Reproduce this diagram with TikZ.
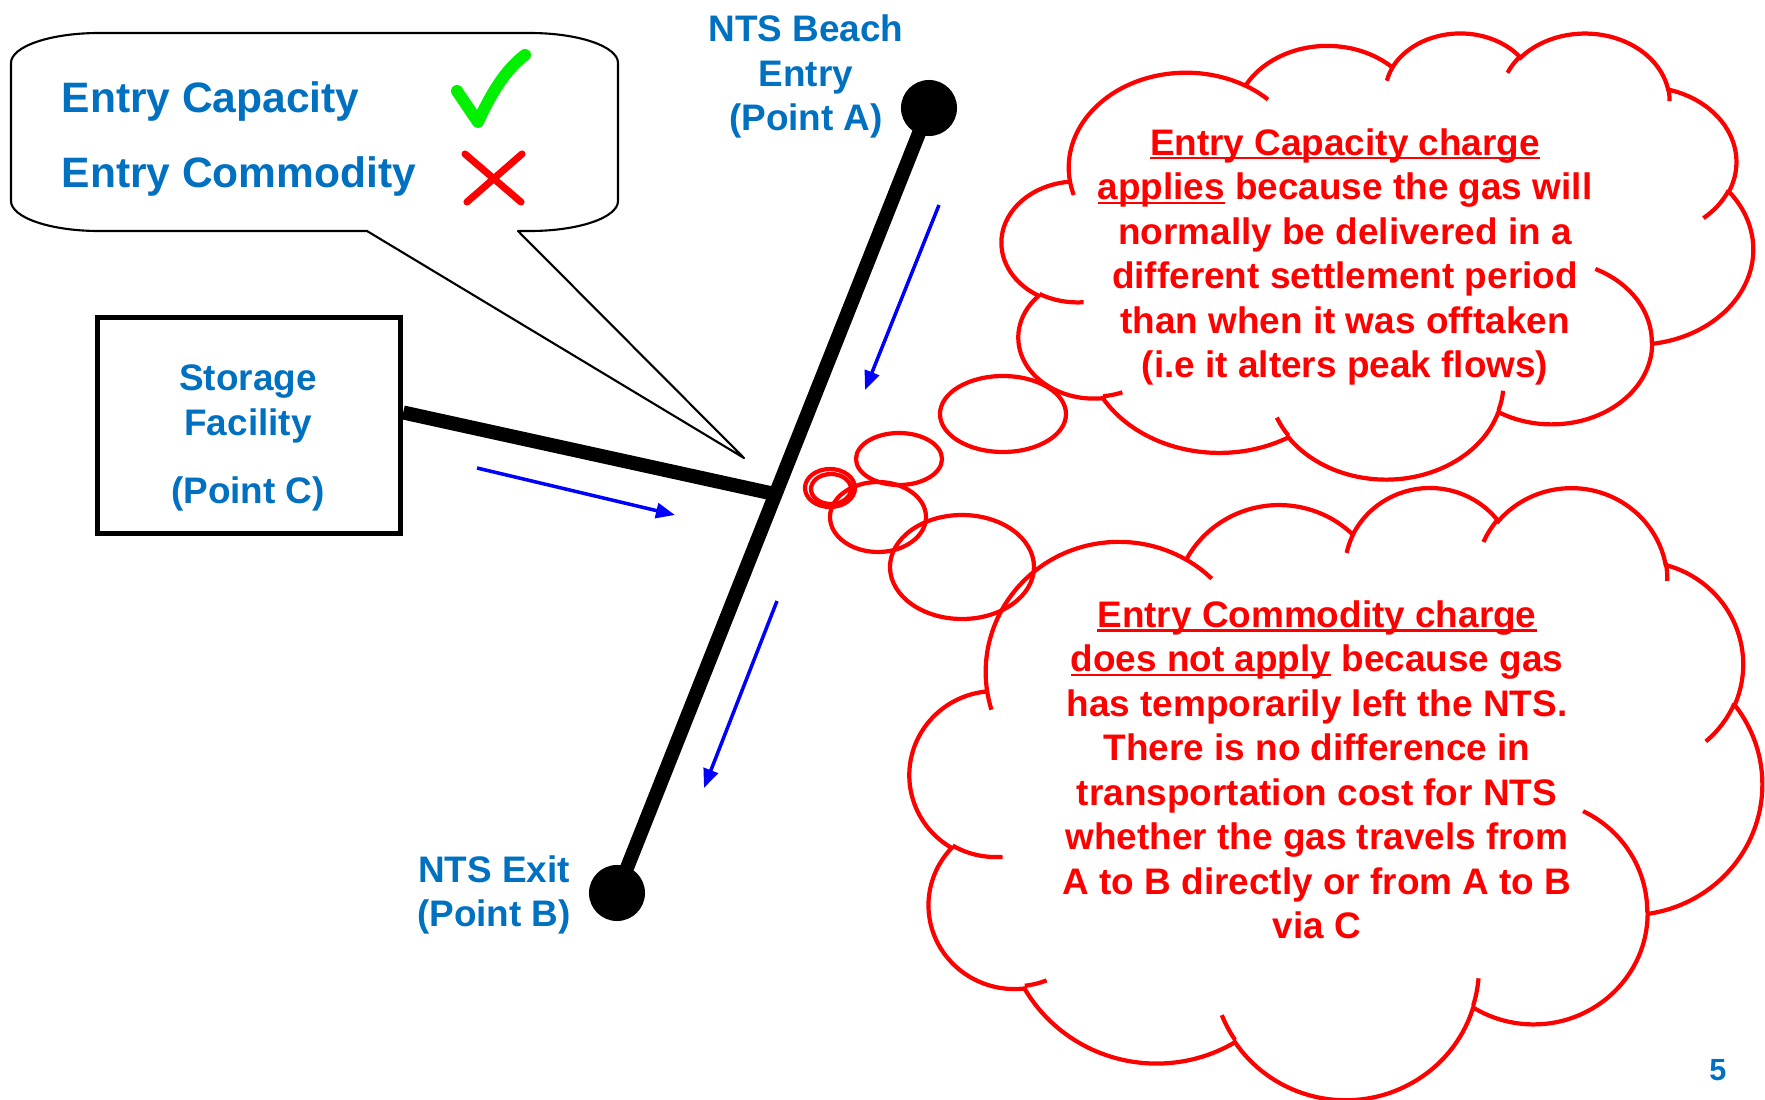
\documentclass[tikz,border=0pt]{standalone}
\usepackage{fontspec}
\setmainfont{Liberation Sans}
\usetikzlibrary{positioning,arrows.meta,calc}
\definecolor{ptblue}{RGB}{0,112,192}
\definecolor{tickgreen}{RGB}{0,240,0}
\newsavebox\ulbox
\newcommand{\ulx}[1]{\sbox\ulbox{#1}\rlap{\rule[-0.4mm]{\wd\ulbox}{0.6pt}}\usebox\ulbox}
% one bump of the cloud outline (radii, start and sweep angle)
\newcommand{\cloudarc}[4]{arc[x radius=#1,y radius=#2,
  start angle={atan2(#1*sin(#3),#2*cos(#3))},
  delta angle={mod(atan2(#1*sin(#3+#4),#2*cos(#3+#4))-atan2(#1*sin(#3),#2*cos(#3))+720,360)}]}
\newcommand{\cloudshape}{%
  (3.9,14.37) \cloudarc{6.753}{9.19}{-190.4875}{123.7805}
  \cloudarc{5.333}{7.267}{-144.1024}{89.9452}
  \cloudarc{4.365}{5.945}{-145.8079}{99.723}
  \cloudarc{4.857}{6.595}{-130.9861}{117.2417}
  \cloudarc{5.333}{7.273}{-78.7089}{109.0269}
  \cloudarc{6.775}{9.22}{-46.2673}{130.269}
  \cloudarc{5.785}{7.867}{0.625}{114.0333}
  \cloudarc{6.752}{9.215}{22.4516}{115.1726}
  \cloudarc{7.72}{10.543}{66.2426}{75.711}
  \cloudarc{4.36}{5.918}{-274.9421}{146.7356}
  \cloudarc{4.345}{5.945}{-246.8285}{152.5189} -- cycle
  (4.693,26.177) \cloudarc{4.345}{5.945}{86.742}{26.4295}
  (6.928,34.899) \cloudarc{4.36}{5.918}{73.6105}{11.4475}
  (16.478,39.09) \cloudarc{6.752}{9.215}{137.6242}{14.0811}
  (28.827,34.751) \cloudarc{6.752}{9.215}{6.4533}{15.9984}
  (34.129,22.954) \cloudarc{5.785}{7.867}{-70.2924}{70.9174}
  (41.798,15.354) \cloudarc{5.333}{7.273}{30.318}{27.7515}
  (38.324,5.426) \cloudarc{4.857}{6.595}{-13.7443}{14.8589}
  (29.078,3.952) \cloudarc{4.857}{6.595}{-149.1815}{18.1954}
  (22.141,4.72) \cloudarc{4.365}{5.945}{-163.4943}{17.6864}
  (14,5.192) \cloudarc{6.753}{9.19}{-66.707}{12.3194}
  (4.127,15.789) \cloudarc{6.753}{9.19}{157.6544}{11.8582}}

\begin{document}
\begin{tikzpicture}[x=0.01cm, y=-0.01cm,
    lbl/.style={text=ptblue,font=\fontsize{10.5}{12.75}\selectfont\bfseries,align=center},
    bubtext/.style={text=ptblue,font=\fontsize{12.1}{14}\selectfont\bfseries,inner sep=0pt},
    redtext/.style={text=red,font=\fontsize{10.5}{12.65}\selectfont\bfseries,align=center},
    dot/.style={circle,fill=black,minimum size=5.6mm,inner sep=0pt},
    pipe/.style={line width=4pt},
    flow/.style={blue,line width=1pt,-{Triangle[length=1.9mm,width=1.5mm]}},
    puff/.style={draw=red,line width=1.2pt},
    bubble/.style={draw=black,line width=0.6pt,line join=round}]
    \useasboundingbox (0,0) rectangle (1765,1100);

    \coordinate (tip) at (744,458);
    \draw[bubble] (367,231) -- (tip) -- (518,231) -- (530,231)
      arc[start angle=90,end angle=0,x radius=88,y radius=30] -- (618,63)
      arc[start angle=0,end angle=-90,x radius=88,y radius=30] -- (99,33)
      arc[start angle=-90,end angle=-180,x radius=88,y radius=30] -- (11,201)
      arc[start angle=180,end angle=90,x radius=88,y radius=30] -- cycle;
    \node[bubtext,anchor=base west] (cap) at (61,112) {Entry Capacity};
    \node[bubtext,anchor=base west] (com) at (61,187) {Entry Commodity};
    \draw[tickgreen,line width=3.4pt,line cap=round,line join=round]
      (457,91) -- (478,122) .. controls (491,94) and (505,70) .. (525,55);
    \draw[red,line width=2pt,line cap=round] (465,154) -- (521,202) (522,154) -- (467,202);

    \node[dot] (ptA) at (929,108) {};
    \node[dot] (ptB) at (617,893) {};
    \draw[pipe] (ptA.center) -- (ptB.center);
    \coordinate (jn) at ($(ptA)!0.492!(ptB)$);
    \node[draw,line width=1.5pt,minimum width=30.3mm,minimum height=21.6mm] (store) at (249,425.5) {};
    \draw[pipe] ([yshift=1.3mm]store.east) -- (jn);

    \node[lbl] (lblA) at (806,76.5) {NTS Beach\\Entry\\(Point A)};
    \node[lbl] (lblB) at (494,895) {NTS Exit\\(Point B)};
    \node[lbl] (lblC) at (248,438) {Storage\\Facility\\[2.3mm](Point C)};

    \coordinate (f1s) at (939,205);  \coordinate (f1e) at (865,390);
    \coordinate (f2s) at (477,468);  \coordinate (f2e) at (675,515);
    \coordinate (f3s) at (777,601);  \coordinate (f3e) at (704,788);
    \foreach \a/\b in {f1s/f1e,f2s/f2e,f3s/f3e} \draw[flow] (\a) -- (\b);

    \draw[puff] (830,488) ellipse[x radius=25,y radius=19];
    \draw[puff] (831,489) ellipse[x radius=20,y radius=15];
    \draw[puff] (878,517) ellipse[x radius=48,y radius=35];
    \draw[puff] (899,459) ellipse[x radius=43,y radius=26];
    \draw[puff] (1003,414) ellipse[x radius=63,y radius=38];
    \draw[puff] (962,567) ellipse[x radius=72,y radius=52];

    \begin{scope}[shift={(1002,32)},xscale=751/43.2,yscale=446/43.2]
      \draw[puff] \cloudshape;
    \end{scope}
    \begin{scope}[shift={(910,486)},xscale=852/43.2,yscale=612/43.2]
      \draw[puff] \cloudshape;
    \end{scope}

    \node[redtext] (why1) at (1345,257) {\ulx{Entry Capacity charge}\\
      \ulx{applies} because the gas will\\normally be delivered in a\\
      different settlement period\\than when it was offtaken\\(i.e it alters peak flows)};
    \node[redtext] (why2) at (1317,770) {\ulx{Entry Commodity charge}\\
      \ulx{does not apply} because gas\\has temporarily left the NTS.\\
      There is no difference in\\transportation cost for NTS\\
      whether the gas travels from\\A to B directly or from A to B\\via C};

    \node[text=ptblue,font=\fontsize{8.7}{10}\selectfont\bfseries] (pgno) at (1718,1070) {5};
  \end{tikzpicture}
\end{document}
